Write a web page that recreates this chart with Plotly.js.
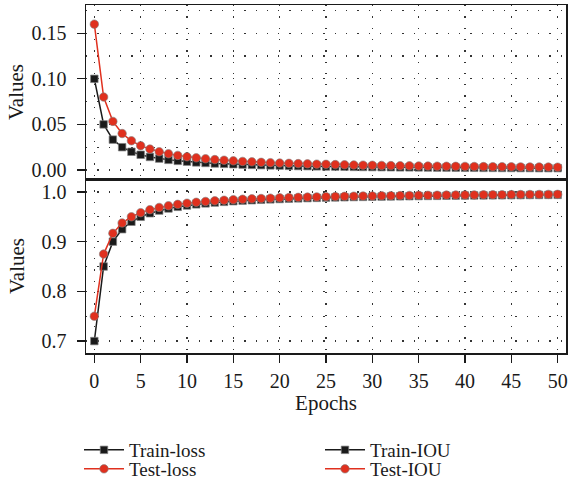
<!DOCTYPE html>
<html><head><meta charset="utf-8">
<script src="https://cdn.plot.ly/plotly-3.0.1.min.js"></script>
<style>html,body{margin:0;padding:0;background:#fff}#chart{width:568px;height:479px}</style>
</head><body><div id="chart"></div>
<script>
const epochs = Array.from({length: 51}, (_, i) => i);
const trainLoss = [0.100,0.050,0.0333,0.0250,0.0200,0.0167,0.0143,0.0125,0.0111,0.0100,0.0091,0.0083,0.0077,0.0071,0.0067,0.0063,0.0059,0.0056,0.0053,0.0050,0.0048,0.0045,0.0043,0.0042,0.0040,0.0038,0.0037,0.0036,0.0034,0.0033,0.0032,0.0031,0.0030,0.0029,0.0029,0.0028,0.0027,0.0026,0.0026,0.0025,0.0024,0.0024,0.0023,0.0023,0.0022,0.0022,0.0021,0.0021,0.0020,0.0020,0.0020];
const testLoss = [0.160,0.080,0.0533,0.0400,0.0320,0.0267,0.0229,0.0200,0.0178,0.0160,0.0145,0.0133,0.0123,0.0114,0.0107,0.0100,0.0094,0.0089,0.0084,0.0080,0.0076,0.0073,0.0070,0.0067,0.0064,0.0062,0.0059,0.0057,0.0055,0.0053,0.0052,0.0050,0.0048,0.0047,0.0046,0.0044,0.0043,0.0042,0.0041,0.0040,0.0039,0.0038,0.0037,0.0036,0.0036,0.0035,0.0034,0.0033,0.0033,0.0032,0.0031];
const trainIOU = [0.700,0.850,0.900,0.925,0.940,0.950,0.9571,0.9625,0.9667,0.9700,0.9727,0.9750,0.9769,0.9786,0.9800,0.9813,0.9824,0.9833,0.9842,0.9850,0.9857,0.9864,0.9870,0.9875,0.9880,0.9885,0.9889,0.9893,0.9897,0.9900,0.9903,0.9906,0.9909,0.9912,0.9914,0.9917,0.9919,0.9921,0.9923,0.9925,0.9927,0.9929,0.9930,0.9932,0.9933,0.9935,0.9936,0.9938,0.9939,0.9940,0.9941];
const testIOU = [0.750,0.875,0.9167,0.9375,0.950,0.9583,0.9643,0.9688,0.9722,0.9750,0.9773,0.9792,0.9808,0.9821,0.9833,0.9844,0.9853,0.9861,0.9868,0.9875,0.9881,0.9886,0.9891,0.9896,0.9900,0.9904,0.9907,0.9911,0.9914,0.9917,0.9919,0.9922,0.9924,0.9926,0.9929,0.9931,0.9932,0.9934,0.9936,0.9938,0.9939,0.9940,0.9942,0.9943,0.9944,0.9946,0.9947,0.9948,0.9949,0.9950,0.9951];
const xTicks = [0,5,10,15,20,25,30,35,40,45,50];
const lossTicks = [0.00,0.05,0.10,0.15];
const iouTicks = [0.7,0.8,0.9,1.0];

const BLACK = '#1a1a1a', RED = '#e0301e';
const FONT = 'Liberation Serif, Times New Roman, serif';
const sq = {symbol:'square', size:7.5, color:BLACK, line:{color:'rgba(130,130,130,0.7)', width:1}};
const ci = {symbol:'circle', size:8.5, color:RED, line:{color:'rgba(130,130,130,0.6)', width:1}};

const traces = [
  {x:epochs, y:trainLoss, name:'Train-loss', mode:'lines+markers', xaxis:'x2', yaxis:'y', line:{color:BLACK,width:1.5}, marker:sq, legend:'legend'},
  {x:epochs, y:testLoss, name:'Test-loss', mode:'lines+markers', xaxis:'x2', yaxis:'y', line:{color:RED,width:1.5}, marker:ci, legend:'legend2'},
  {x:epochs, y:trainIOU, name:'Train-IOU', mode:'lines+markers', xaxis:'x', yaxis:'y2', line:{color:BLACK,width:1.5}, marker:sq, legend:'legend'},
  {x:epochs, y:testIOU, name:'Test-IOU', mode:'lines+markers', xaxis:'x', yaxis:'y2', line:{color:RED,width:1.5}, marker:ci, legend:'legend2'}
];

const GD = '1.3px,10px';
const grid = {showgrid:true, gridcolor:'#333', gridwidth:1.3, griddash:GD};
const ax = {showline:true, linecolor:BLACK, linewidth:1.5, mirror:true, zeroline:false,
  tickfont:{family:FONT, size:20, color:BLACK}, ticks:'outside', ticklen:8, tickwidth:1.3, tickcolor:BLACK};
const TF = {family:FONT, size:21, color:BLACK};
const LF = {family:FONT, size:19, color:BLACK};

const layout = {
  width:568, height:479,
  margin:{l:86, r:2, t:5, b:126},
  paper_bgcolor:'#fff', plot_bgcolor:'#fff',
  font:{family:FONT, size:20, color:BLACK},
  showlegend:true,
  xaxis: Object.assign({}, ax, grid, {anchor:'y2', domain:[0,1], range:[-0.9,50.9], tickmode:'array', tickvals:xTicks,
    ticklabelstandoff:1,
    title:{text:'Epochs', font:TF, standoff:0}}),
  xaxis2: Object.assign({}, ax, grid, {anchor:'y', matches:'x', range:[-0.9,50.9], tickmode:'array', tickvals:xTicks, showticklabels:false, ticks:''}),
  yaxis: Object.assign({}, ax, grid, {domain:[0.5,1], anchor:'x2', range:[-0.0099,0.181], tickmode:'array', tickvals:lossTicks,
    ticktext:['0.00','0.05','0.10','0.15'], ticklabelstandoff:6,
    minor:{dtick:0.025, tick0:0, showgrid:true, gridcolor:'#333', gridwidth:1.3, griddash:GD, ticks:''},
    title:{text:'Values', font:TF, standoff:2}}),
  yaxis2: Object.assign({}, ax, grid, {domain:[0,0.5], anchor:'x', range:[0.676,1.026], tickmode:'array', tickvals:iouTicks,
    ticktext:['0.7','0.8','0.9','1.0'], ticklabelstandoff:6,
    minor:{dtick:0.05, tick0:0.7, showgrid:true, gridcolor:'#333', gridwidth:1.3, griddash:GD, ticks:''},
    title:{text:'Values', font:TF, standoff:11}}),
  legend: {orientation:'h', xref:'container', yref:'container', x:79/568, y:1-431/479, xanchor:'left', yanchor:'top',
    bgcolor:'rgba(0,0,0,0)', font:LF, entrywidth:186, itemwidth:40, tracegroupgap:0},
  legend2: {orientation:'h', xref:'container', yref:'container', x:79/568, y:1-450/479, xanchor:'left', yanchor:'top',
    bgcolor:'rgba(0,0,0,0)', font:LF, entrywidth:186, itemwidth:40, tracegroupgap:0},
  shapes: [
    {type:'line', xref:'paper', yref:'paper', x0:0, x1:1, y0:0.5, y1:0.5, line:{color:BLACK, width:2}}
  ]
};
Plotly.newPlot('chart', traces, layout, {staticPlot:true, displayModeBar:false});
</script></body></html>
